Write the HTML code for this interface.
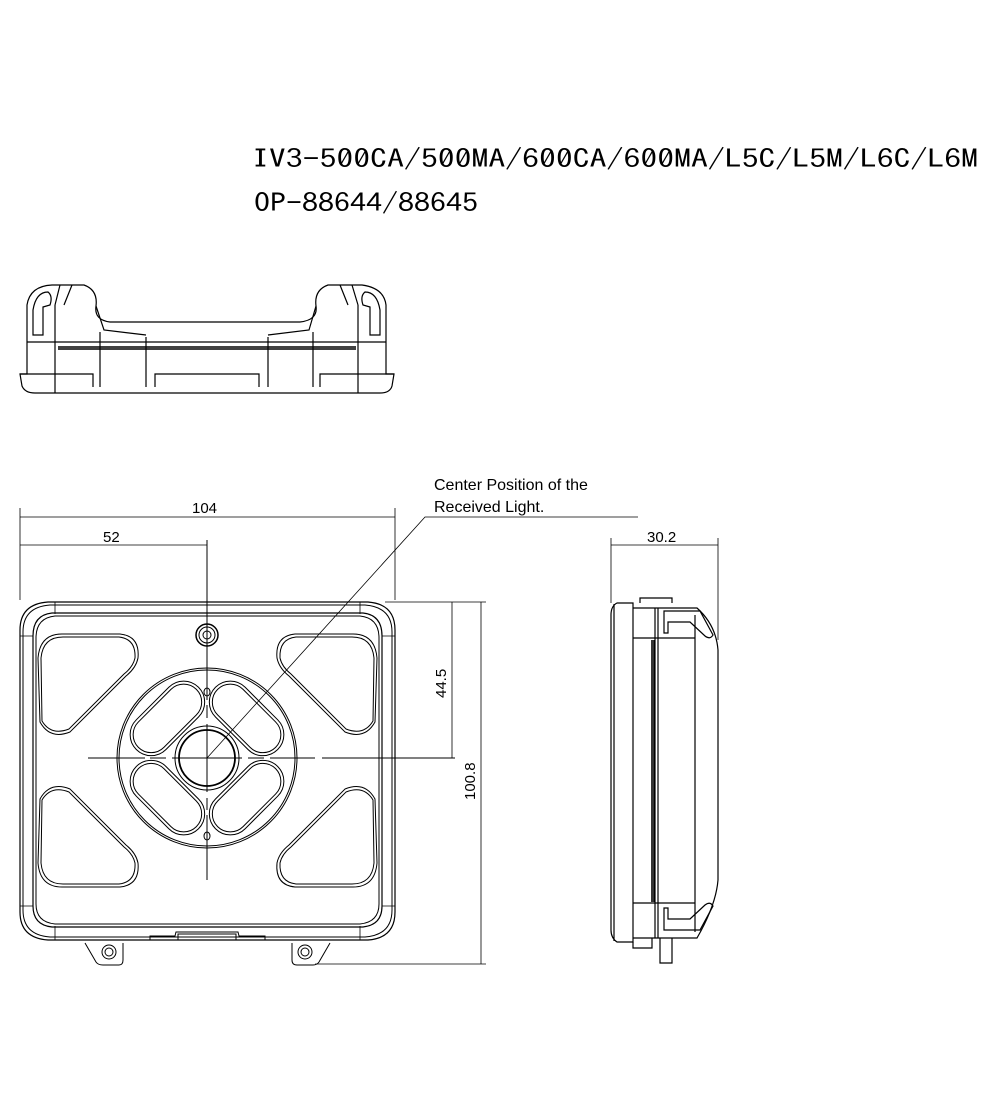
<!DOCTYPE html>
<html><head><meta charset="utf-8"><style>
html,body{margin:0;padding:0;background:#fff;}
svg{display:block;}
text{fill:#000;}
</style></head><body>
<svg width="1000" height="1100" viewBox="0 0 1000 1100" xmlns="http://www.w3.org/2000/svg" fill="none" stroke="#000" stroke-width="1">
<text x="252" y="168" font-family="IPAGothic, 'Liberation Sans', sans-serif" font-size="26" stroke="none" textLength="726" lengthAdjust="spacingAndGlyphs">IV3-500CA/500MA/600CA/600MA/L5C/L5M/L6C/L6M</text>
<text x="254" y="212" font-family="IPAGothic, 'Liberation Sans', sans-serif" font-size="26" stroke="none" textLength="224" lengthAdjust="spacingAndGlyphs">OP-88644/88645</text>

<g stroke-width="1.2">
<path d="M27,342 L27,305 Q30,286 52,285 L84,285 Q98,290 96,306 Q94,320 110,322 L300,322 Q318,320 316,306 Q314,290 328,285 L362,285 Q384,288 386,305 L386,342"/>
<path d="M27,342 L386,342"/>
<path d="M27,342 L27,374 L20,374 L22,386 Q25,393 35,393 L380,393 Q390,393 392,386 L394,374 L386,374 L386,342"/>
<path d="M20,374 L93,374 L93,387 M155,387 L155,374 L259,374 L259,387 M320,387 L320,374 L394,374"/>
<path d="M100,332 L100,387 M146,337 L146,387 M268,337 L268,387 M313,332 L313,387"/>
<path d="M58,347 L356,347 M58,349 L356,349" stroke-width="1.5"/>
<path d="M55,305 L55,393 M358,305 L358,393"/>
<path d="M33,335 L33,310 Q36,292 48,292 Q53,296 50,305 L43,307 L43,335 Z"/>
<path d="M380,335 L380,310 Q377,292 365,292 Q360,296 363,305 L370,307 L370,335 Z"/>
<path d="M96,306 L104,330 L146,335 M316,306 L309,330 L268,335"/>
<path d="M60,285 L55,305 M72,285 L64,305 M352,285 L358,305 M340,285 L348,305"/>
</g>

<g stroke-width="1">
<path d="M48,602 L368,602 Q395,604 395,630 L395,912 Q395,938 368,940 L48,940 Q20,938 20,912 L20,630 Q20,604 48,602 Z" stroke-width="1.2"/>
<path d="M50,605 L365,605 Q392,607 392,632 L392,910 Q392,935 365,937 L50,937 Q23,935 23,910 L23,632 Q23,607 50,605 Z"/>
<path d="M52,613 L363,613 Q382,615 382,636 L382,906 Q382,925 363,927 L52,927 Q33,925 33,906 L33,636 Q33,615 52,613 Z" stroke-width="1.2"/>
<path d="M55,616 L360,616 Q379,618 379,638 L379,904 Q379,922 360,924 L55,924 Q36,922 36,904 L36,638 Q36,618 55,616 Z"/>
<g>
<path d="M62,634 L120,634 Q140,636 138,658 Q136,668 126,676 L70,732 Q50,740 40,722 L38,658 Q40,634 62,634 Z"/>
<path d="M63,637 L119,637 Q136,639 135,658 Q133,667 124,674 L69,729 Q51,736 42,721 L41,658 Q43,637 63,637 Z"/>
<path d="M353,634 L295,634 Q275,636 277,658 Q279,668 289,676 L345,732 Q365,740 375,722 L377,658 Q375,634 353,634 Z"/>
<path d="M352,637 L296,637 Q279,639 280,658 Q282,667 291,674 L346,729 Q364,736 373,721 L374,658 Q372,637 352,637 Z"/>
<path d="M62,887 L120,887 Q140,885 138,863 Q136,853 126,845 L70,789 Q50,781 40,799 L38,863 Q40,887 62,887 Z"/>
<path d="M63,884 L119,884 Q136,882 135,863 Q133,854 124,847 L69,792 Q51,785 42,800 L41,863 Q43,884 63,884 Z"/>
<path d="M353,887 L295,887 Q275,885 277,863 Q279,853 289,845 L345,789 Q365,781 375,799 L377,863 Q375,887 353,887 Z"/>
<path d="M352,884 L296,884 Q279,882 280,863 Q282,854 291,847 L346,792 Q364,785 373,800 L374,863 Q372,884 352,884 Z"/>
</g>
<circle cx="207" cy="758" r="90"/>
<circle cx="207" cy="758" r="88"/>
<circle cx="207" cy="758" r="32"/>
<circle cx="207" cy="758" r="28" stroke-width="1.8"/>
<g transform="translate(207,758)">
<g transform="rotate(-45) translate(0,-56)"><rect x="-44" y="-21" width="88" height="42" rx="21"/><rect x="-41" y="-18" width="82" height="36" rx="18"/></g>
<g transform="rotate(45) translate(0,-56)"><rect x="-44" y="-21" width="88" height="42" rx="21"/><rect x="-41" y="-18" width="82" height="36" rx="18"/></g>
<g transform="rotate(135) translate(0,-56)"><rect x="-44" y="-21" width="88" height="42" rx="21"/><rect x="-41" y="-18" width="82" height="36" rx="18"/></g>
<g transform="rotate(-135) translate(0,-56)"><rect x="-44" y="-21" width="88" height="42" rx="21"/><rect x="-41" y="-18" width="82" height="36" rx="18"/></g>
</g>
<ellipse cx="207" cy="692" rx="3" ry="4"/>
<ellipse cx="207" cy="836" rx="3" ry="4"/>
<circle cx="207" cy="635" r="11" stroke-width="1.5"/>
<circle cx="207" cy="635" r="8"/>
<circle cx="207" cy="635" r="4"/>
<path d="M207,540 L207,700 M207,705 L207,718 M207,724 L207,792 M207,798 L207,810 M207,815 L207,880 M88,758 L145,758 M150,758 L166,758 M172,758 L242,758 M248,758 L264,758 M270,758 L315,758 M322,758 L455,758"/>
<path d="M85,943 L96,962 Q98,965 103,965 L119,965 Q123,965 123,960 L123,943"/>
<circle cx="109" cy="952" r="7"/><circle cx="109" cy="952" r="4"/>
<path d="M292,943 L292,960 Q292,965 297,965 L313,965 Q317,965 319,962 L330,943"/>
<circle cx="305" cy="952" r="7"/><circle cx="305" cy="952" r="4"/>
<path d="M150,940 L150,936 L175,936 L176,932 L238,932 L239,936 L265,936 L265,940"/>
<rect x="178" y="934" width="58" height="6"/>
<path d="M55,602 L55,614 M360,602 L360,614 M55,926 L55,940 M360,926 L360,940 M20,636 L33,636 M382,636 L395,636 M20,906 L33,906 M382,906 L395,906" stroke-width="0.8"/>
</g>

<g stroke-width="1.2">
<path d="M617,603 L633,603 L633,942 L617,942 Q611,938 611,930 L611,615 Q611,606 617,603 Z"/>
<path d="M614,604 L614,941"/>
<path d="M633,608 L697,608 Q716,625 718,650 L718,880 Q716,905 697,938 L633,938"/>
<path d="M655,608 L655,938 M658,608 L658,938 M695,615 L695,932"/>
<path d="M652,640 L652,902 M654,640 L654,902" stroke-width="1.6"/>
<path d="M633,638 L695,638 M633,903 L695,903"/>
<path d="M640,603 L640,598 L672,598 L672,603"/>
<path d="M664,611 L700,611 L713,635 Q710,640 705,636 L690,622 L668,622 L668,633 L664,633 Z"/>
<path d="M664,930 L700,930 L713,906 Q710,901 705,905 L690,919 L668,919 L668,908 L664,908 Z"/>
<path d="M660,938 L660,963 L672,963 L672,938"/>
<path d="M633,942 L633,948 L652,948 L652,938"/>
</g>

<g stroke-width="0.8">
<path d="M20,508 L20,600 M395,508 L395,600 M20,517 L395,517"/>
<path d="M20,545 L207,545"/>
<path d="M385,602 L486,602 M315,964 L486,964"/>
<path d="M452,602 L452,758 M481,602 L481,964"/>
<path d="M611,538 L611,603 M718,538 L718,640 M611,545 L718,545"/>
<path d="M207,758 L425,517 L638,517"/>
</g>
<g font-family="'Liberation Sans', sans-serif" font-size="15" stroke="none">
<text x="192" y="513">104</text>
<text x="103" y="542">52</text>
<text x="647" y="542">30.2</text>
<text x="434" y="490" font-size="16">Center Position of the</text>
<text x="434" y="512" font-size="16">Received Light.</text>
<text transform="translate(446,698) rotate(-90)">44.5</text>
<text transform="translate(475,800) rotate(-90)">100.8</text>
</g>
</svg>
</body></html>
